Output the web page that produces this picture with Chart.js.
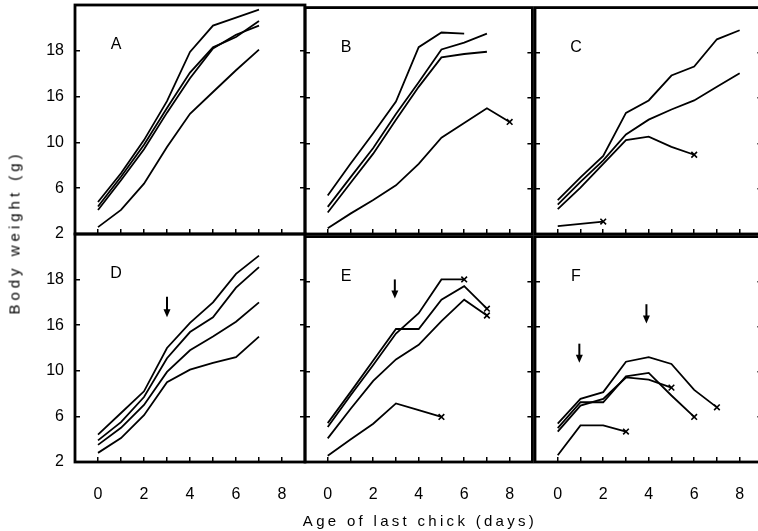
<!DOCTYPE html>
<html>
<head>
<meta charset="utf-8">
<script src="https://cdn.jsdelivr.net/npm/chart.js@4/dist/chart.umd.min.js"></script>
<style>
  body { margin: 0; width: 758px; height: 531px; overflow: hidden; position: relative; background: #fff; font-family: "Liberation Sans", Arial, sans-serif; }
  canvas { position: absolute; }
  #ytitle { position: absolute; left: -86px; top: 224px; width: 200px; text-align: center; font-size: 15px; letter-spacing: 4px; transform: rotate(-90deg); }
  #xtitle { position: absolute; left: 170px; top: 512px; width: 500px; text-align: center; font-size: 15px; letter-spacing: 3.3px; }
</style>
</head>
<body>
<canvas id="cA"></canvas>
<canvas id="cB"></canvas>
<canvas id="cC"></canvas>
<canvas id="cD"></canvas>
<canvas id="cE"></canvas>
<canvas id="cF"></canvas>
<div id="ytitle">Body weight (g)</div>
<div id="xtitle">Age of last chick (days)</div>
<script>
// age of last chick, days
const days = [0, 1, 2, 3, 4, 5, 6, 7, 8];
const yTickValues = [2, 6, 10, 14, 18];
const yTickLabels = ['2', '6', '10', '16', '18'];
const xTickValues = [0, 2, 4, 6, 8];
const xTickLabels = ['0', '2', '4', '6', '8'];

// body weight (g), one array per chick
const seriesA = [
  [4.8, 7.3, 10.2, 13.6, 17.9, 20.2, 20.9, 21.6],
  [4.4, 7.0, 9.8, 13.0, 16.1, 18.3, 19.2, 20.6],
  [4.1, 6.7, 9.4, 12.6, 15.6, 18.2, 19.4, 20.2],
  [2.6, 4.1, 6.4, 9.6, 12.5, 14.4, 16.3, 18.1]
];
const deadA = [false, false, false, false];

const seriesB = [
  [5.4, 8.2, 10.9, 13.7, 18.5, 19.8, 19.7],
  [4.4, 7.0, 9.6, 12.6, 15.4, 18.3, 18.9, 19.7],
  [3.9, 6.5, 9.1, 12.1, 15.0, 17.6, 17.9, 18.1],
  [2.5, 3.8, 5.0, 6.3, 8.2, 10.5, 11.8, 13.1, 11.9]
];
const deadB = [false, false, false, true];

const seriesC = [
  [5.0, 7.0, 8.9, 12.7, 13.8, 16.0, 16.8, 19.2, 20.0],
  [4.6, 6.6, 8.5, 10.8, 12.1, 13.0, 13.8, 15.0, 16.2],
  [4.2, 6.1, 8.2, 10.3, 10.6, 9.7, 9.0],
  [2.7, 2.9, 3.1]
];
const deadC = [false, false, true, true];

const seriesD = [
  [4.4, 6.3, 8.2, 12.0, 14.2, 16.0, 18.5, 20.1],
  [3.9, 5.5, 7.7, 11.1, 13.4, 14.7, 17.3, 19.1],
  [3.5, 5.0, 7.0, 9.9, 11.8, 13.0, 14.3, 16.0],
  [2.8, 4.1, 6.1, 9.0, 10.1, 10.7, 11.2, 13.0]
];
const deadD = [false, false, false, false];

const seriesE = [
  [5.45, 8.2, 11.0, 13.8, 13.8, 16.4, 17.6, 15.6],
  [5.1, 7.9, 10.6, 13.4, 15.2, 18.2, 18.2],
  [4.1, 6.7, 9.2, 11.1, 12.4, 14.5, 16.4, 15.0],
  [2.55, 4.0, 5.4, 7.2, 6.6, 6.0]
];
const deadE = [true, true, true, true];

const seriesF = [
  [5.4, 7.6, 8.2, 10.9, 11.3, 10.7, 8.4, 6.85],
  [5.0, 7.3, 7.3, 9.6, 9.9, 7.9, 6.0],
  [4.7, 7.0, 7.6, 9.5, 9.3, 8.6],
  [2.6, 5.25, 5.25, 4.7]
];
const deadF = [true, true, true, true];

// arrows: [day, weight at tail, weight at tip]
const arrowsD = [[3, 16.5, 14.7]];
const arrowsE = [[2.95, 18.2, 16.5]];
const arrowsF = [[0.95, 12.5, 10.8], [3.9, 16.0, 14.3]];

const frame = {
  id: 'frame',
  afterDatasetsDraw(chart, args, opts) {
    const { ctx, chartArea: a, scales } = chart;
    ctx.save();
    ctx.strokeStyle = '#000';
    ctx.fillStyle = '#000';
    // arrows
    (opts.arrows || []).forEach(([d, from, to]) => {
      const x = scales.x.getPixelForValue(d);
      const y1 = scales.y.getPixelForValue(from);
      const y2 = scales.y.getPixelForValue(to);
      ctx.lineWidth = 2;
      ctx.beginPath();
      ctx.moveTo(x, y1);
      ctx.lineTo(x, y2 - 6);
      ctx.stroke();
      ctx.beginPath();
      ctx.moveTo(x - 3.5, y2 - 8);
      ctx.lineTo(x + 3.5, y2 - 8);
      ctx.lineTo(x, y2);
      ctx.closePath();
      ctx.fill();
    });
    ctx.lineWidth = 2.8;
    ctx.strokeRect(a.left, a.top, a.right - a.left, a.bottom - a.top);
    ctx.font = '16px "Liberation Sans", Arial, sans-serif';
    ctx.textAlign = 'center';
    ctx.textBaseline = 'middle';
    ctx.fillText(opts.letter, a.left + 41, a.top + 40);
    ctx.restore();
  }
};

function makePanel(id, letter, left, top, h, series, dead, arrows, showY, showX) {
  const cv = document.getElementById(id);
  cv.width = 75 + 230 + 3;
  cv.height = 3 + h + 69;
  cv.style.left = (left - 75) + 'px';
  cv.style.top = (top - 3) + 'px';

  const tickGrid = { drawOnChartArea: false, drawTicks: true, tickLength: -5, color: '#000', lineWidth: 1.5 };
  const font = { family: '"Liberation Sans", Arial, sans-serif', size: 16 };

  new Chart(cv, {
    type: 'line',
    data: {
      datasets: series.map((s, k) => ({
        data: s.map((v, i) => ({ x: days[i], y: v })),
        borderColor: '#000',
        borderWidth: 1.8,
        tension: 0,
        pointStyle: 'crossRot',
        pointBorderColor: '#000',
        pointBorderWidth: 1.6,
        pointRadius: s.map((v, i) => (dead[k] && i === s.length - 1) ? 4 : 0)
      }))
    },
    options: {
      responsive: false,
      animation: false,
      layout: { padding: { top: 3, right: 3, left: 0, bottom: 0 } },
      plugins: { legend: { display: false }, tooltip: { enabled: false }, frame: { letter, arrows } },
      scales: {
        x: {
          type: 'linear', min: -1, max: 9,
          border: { display: false },
          grid: tickGrid,
          afterFit: s => { s.height = 69; s.paddingLeft = 0; s.paddingRight = 0; },
          afterBuildTicks: s => { s.ticks = days.map(v => ({ value: v })); },
          ticks: {
            display: showX, color: '#000', font, padding: 28, autoSkip: false, maxRotation: 0,
            callback: v => { const i = xTickValues.indexOf(v); return i >= 0 ? xTickLabels[i] : ''; }
          }
        },
        y: {
          min: 2, max: 22,
          border: { display: false },
          grid: tickGrid,
          afterFit: s => { s.width = 75; s.paddingTop = 0; s.paddingBottom = 0; },
          afterBuildTicks: s => { s.ticks = yTickValues.map(v => ({ value: v })); },
          ticks: {
            display: showY, color: '#000', font, padding: 16,
            callback: v => yTickLabels[yTickValues.indexOf(v)]
          }
        },
        y2: {
          position: 'right', min: 2, max: 22,
          border: { display: false },
          grid: tickGrid,
          afterFit: s => { s.width = 0; s.paddingTop = 0; s.paddingBottom = 0; },
          afterBuildTicks: s => { s.ticks = yTickValues.map(v => ({ value: v })); },
          ticks: { display: false }
        }
      }
    },
    plugins: [frame]
  });
}

makePanel('cA', 'A', 75, 5, 229, seriesA, deadA, [], true, false);
makePanel('cB', 'B', 305, 5, 229, seriesB, deadB, [], false, false);
makePanel('cC', 'C', 535, 5, 229, seriesC, deadC, [], false, false);
makePanel('cD', 'D', 75, 234, 228, seriesD, deadD, arrowsD, true, true);
makePanel('cE', 'E', 305, 234, 228, seriesE, deadE, arrowsE, false, true);
makePanel('cF', 'F', 535, 234, 228, seriesF, deadF, arrowsF, false, true);
</script>
</body>
</html>
